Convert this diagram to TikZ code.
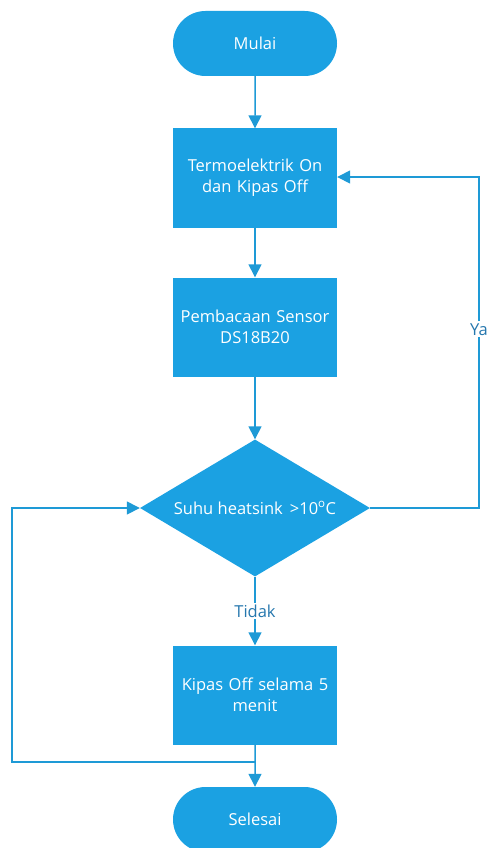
\documentclass[tikz,border=0pt]{standalone}
\usepackage{fontspec}
\setmainfont{Open Sans}
\usetikzlibrary{shapes.geometric,shapes.misc,arrows.meta}
\definecolor{fillblue}{HTML}{1BA1E2}
\definecolor{lineblue}{HTML}{1E9AD6}
\definecolor{labblue}{HTML}{2577AE}
\tikzset{
  base/.style={fill=fillblue, draw=none, text=white, font=\fontsize{16.5}{21}\selectfont, align=center, inner sep=0pt},
  term/.style={base, rounded rectangle, minimum width=164pt, minimum height=65pt},
  proc/.style={base, rectangle, minimum width=164pt, minimum height=99pt, text width=160pt},
  deci/.style={base, diamond, aspect=1.68, minimum width=230pt, minimum height=137pt},
  conn/.style={draw=lineblue, line width=1.5pt, -{Triangle[width=13pt,length=13pt]}},
  lab/.style={fill=white, text=labblue, font=\fontsize{16.5}{21}\selectfont, inner sep=2pt}
}
\begin{document}
\begin{tikzpicture}[x=1pt,y=-1pt]
\useasboundingbox (0,0) rectangle (492,848);
\node[term] (mulai) at (255,43.5) {Mulai};
\node[proc] (b1) at (255,178) {Termoelektrik On\\dan Kipas Off};
\node[proc] (b2) at (255,327) {Pembacaan Sensor\\DS18B20};
\node[deci] (d) at (255,508) {Suhu heatsink \,>10\textsuperscript{o}C};
\node[proc] (b3) at (255,695) {Kipas Off selama 5\\menit};
\node[term] (selesai) at (255,819.5) {Selesai};
\coordinate (r1) at (479,508);
\coordinate (r2) at (479,177);
\coordinate (l1) at (12,762);
\coordinate (l2) at (12,508);
\coordinate (j) at (255,762);
\path[conn] (mulai) -- (b1);
\path[conn] (b1) -- (b2);
\path[conn] (b2) -- (d);
\path[conn] (d) -- node[lab, pos=0.5] (tidak) {Tidak} (b3);
\path[conn] (b3) -- (selesai);
\path[conn] (d.east) -- (r1) -- node[lab, pos=0.54] (ya) {Ya} (r2) -- (b1.east |- r2);
\path[conn] (j) -- (l1) -- (l2) -- (d.west);
\end{tikzpicture}
\end{document}
